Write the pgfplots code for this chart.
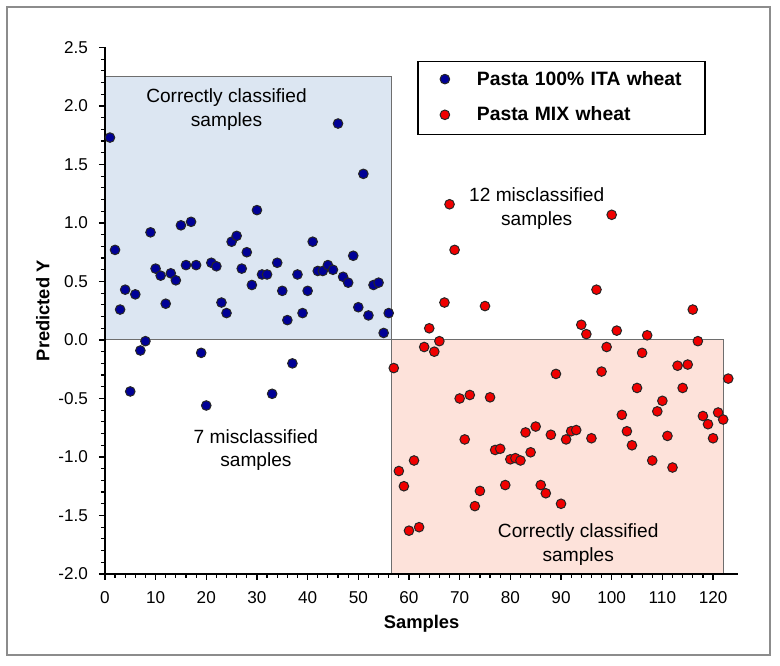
\documentclass[border=0pt]{standalone}
\usepackage{fontspec}
\setmainfont{Liberation Sans}
\usepackage{pgfplots}
\pgfplotsset{compat=1.18}
\usepackage{pgfplotstable}

\definecolor{bluept}{HTML}{000096}
\definecolor{redpt}{HTML}{F00000}
\definecolor{outl}{HTML}{262626}
\definecolor{bluebox}{HTML}{DCE6F2}
\definecolor{redbox}{HTML}{FDE2DA}
\definecolor{boxgray}{HTML}{6E6E6E}
\definecolor{framegray}{HTML}{8C8C8C}

\pgfplotstableread{
x y
1 1.73
2 0.77
3 0.26
4 0.43
5 -0.44
6 0.39
7 -0.09
8 -0.01
9 0.92
10 0.61
11 0.55
12 0.31
13 0.57
14 0.51
15 0.98
16 0.64
17 1.01
18 0.64
19 -0.11
20 -0.56
21 0.66
22 0.63
23 0.32
24 0.23
25 0.84
26 0.89
27 0.61
28 0.75
29 0.47
30 1.11
31 0.56
32 0.56
33 -0.46
34 0.66
35 0.42
36 0.17
37 -0.20
38 0.56
39 0.23
40 0.42
41 0.84
42 0.59
43 0.59
44 0.64
45 0.60
46 1.85
47 0.54
48 0.49
49 0.72
50 0.28
51 1.42
52 0.21
53 0.47
54 0.49
55 0.06
56 0.23
}\ita

\pgfplotstableread{
x y
57 -0.24
58 -1.12
59 -1.25
60 -1.63
61 -1.03
62 -1.60
63 -0.06
64 0.10
65 -0.10
66 -0.01
67 0.32
68 1.16
69 0.77
70 -0.50
71 -0.85
72 -0.47
73 -1.42
74 -1.29
75 0.29
76 -0.49
77 -0.94
78 -0.93
79 -1.24
80 -1.02
81 -1.01
82 -1.03
83 -0.79
84 -0.96
85 -0.74
86 -1.24
87 -1.31
88 -0.81
89 -0.29
90 -1.40
91 -0.85
92 -0.78
93 -0.77
94 0.13
95 0.05
96 -0.84
97 0.43
98 -0.27
99 -0.06
100 1.07
101 0.08
102 -0.64
103 -0.78
104 -0.90
105 -0.41
106 -0.11
107 0.04
108 -1.03
109 -0.61
110 -0.52
111 -0.82
112 -1.09
113 -0.22
114 -0.41
115 -0.21
116 0.26
117 -0.01
118 -0.65
119 -0.72
120 -0.84
121 -0.62
122 -0.68
123 -0.33
}\mix

\begin{document}
\begin{tikzpicture}
\begin{axis}[
  scale only axis, width=316.75bp, height=263.25bp,
  xmin=0, xmax=125, ymin=-2, ymax=2.5,
  axis lines=left, axis line style={-, line width=0.8bp, black},
  axis on top, clip=false,
  xtick={0,10,...,120}, minor x tick num=4,
  ytick={-2,-1.5,...,2.5}, minor y tick num=4,
  tick align=outside, major tick length=3bp, minor tick length=2bp,
  every tick/.style={black, line width=0.6bp},
  /pgf/number format/assume math mode=true,
  tick label style={font=\fontsize{8.6}{10}\selectfont},
  xticklabel style={yshift=-2.5bp, /pgf/number format/.cd, fixed, precision=0, /tikz/.cd},
  yticklabel style={xshift=-2bp, /pgf/number format/.cd, fixed, fixed zerofill, precision=1, /tikz/.cd},
  xlabel={Samples}, ylabel={Predicted Y},
  label style={font=\bfseries\fontsize{9.2}{11}\selectfont},
  xlabel style={at={(axis description cs:0.5,-0.0937)}, anchor=center},
  ylabel style={at={(axis description cs:-0.098,0.5)}, anchor=center},
  legend image code/.code={\path[draw=none, fill=none] (-8.5bp,-4bp) rectangle (8.5bp,4bp); \draw[#1, every mark/.append style={draw=none}] plot coordinates {(0bp,0.5bp)};},
  legend cell align=left,
  legend style={at={(axis cs:61.6,2.387)}, anchor=north west, draw=black, line width=0.8bp, fill=white,
    inner xsep=5bp, inner ysep=4.8bp, row sep=8.85bp,
    font=\bfseries\fontsize{9.7}{11}\selectfont,
    nodes={inner sep=0bp, text height=7bp, text depth=2bp, text width=109bp, anchor=west},
    /tikz/every odd column/.append style={column sep=7.5bp}},
]
\draw[framegray, line width=0.6bp] (axis cs:-19.32,-2.692) rectangle (axis cs:131.24,2.846);
\filldraw[fill=bluebox, draw=boxgray, line width=0.5bp] (axis cs:0,0) rectangle (axis cs:56.5,2.25);
\filldraw[fill=redbox, draw=boxgray, line width=0.5bp] (axis cs:56.5,-2) rectangle (axis cs:122,0);
\coordinate (BBsw) at (axis cs:-20.70,-2.778);
\coordinate (BBne) at (axis cs:133.21,2.906);

\addplot[only marks, mark=*, mark size=2.4bp, mark options={fill=bluept, draw=outl, line width=0.5bp}] table {\ita};
\addlegendentry{Pasta 100\% ITA wheat}
\addplot[only marks, mark=*, mark size=2.4bp, mark options={fill=redpt, draw=outl, line width=0.5bp}] table {\mix};
\addlegendentry{Pasta MIX wheat}

\node[align=center, font=\fontsize{9.6}{12}\selectfont] at (axis cs:24.0,1.97) {Correctly classified\\samples};
\node[align=center, font=\fontsize{9.6}{11.7}\selectfont] at (axis cs:29.8,-0.94) {7 misclassified\\samples};
\node[align=center, font=\fontsize{9.6}{12}\selectfont] at (axis cs:85.2,1.12) {12 misclassified\\samples};
\node[align=center, font=\fontsize{9.6}{12}\selectfont] at (axis cs:93.4,-1.75) {Correctly classified\\samples};
\end{axis}
\pgfresetboundingbox
\path[use as bounding box] (BBsw) rectangle (BBne);
\end{tikzpicture}
\end{document}
